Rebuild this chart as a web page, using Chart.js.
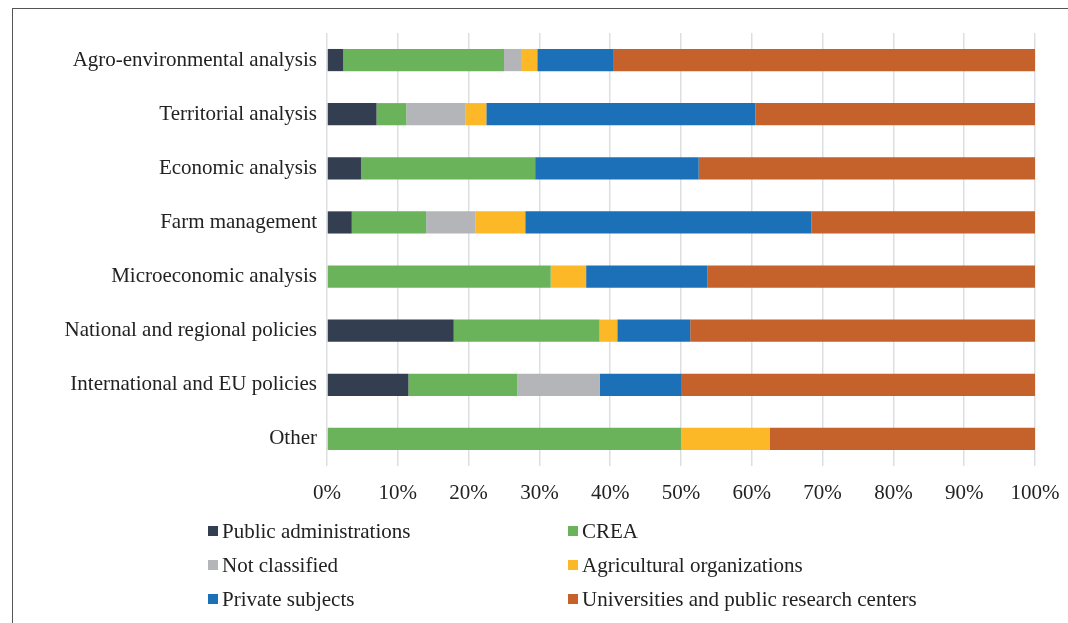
<!DOCTYPE html>
<html>
<head>
<meta charset="utf-8">
<script src="https://cdn.jsdelivr.net/npm/chart.js@4.4.1/dist/chart.umd.min.js"></script>
<style>
  html, body { margin: 0; padding: 0; background: #fff; }
  #wrap { position: relative; width: 1068px; height: 623px; overflow: hidden; }
  #frame { position: absolute; left: 12px; top: 8px; width: 1100px; height: 700px;
           border-top: 1.5px solid #555; border-left: 1.5px solid #555; }
  #chartBox { position: absolute; left: 0; top: 0; width: 1068px; height: 623px; }
  #legend { position: absolute; left: 0; top: 0; width: 1068px; height: 623px; pointer-events: none;
            font-family: "Liberation Serif", "Times New Roman", serif; font-size: 21px; color: #222; }
  .item { position: absolute; white-space: nowrap; line-height: 22px; }
  .sw { position: absolute; width: 10px; height: 10px; top: 6px; }
</style>
</head>
<body>
<div id="wrap">
  <div id="frame"></div>
  <div id="chartBox"><canvas id="c" width="1068" height="623"></canvas></div>
  <div id="legend"></div>
</div>
<script>
const categories = [
  "Agro-environmental analysis",
  "Territorial analysis",
  "Economic analysis",
  "Farm management",
  "Microeconomic analysis",
  "National and regional policies",
  "International and EU policies",
  "Other"
];
const seriesNames = [
  "Public administrations",
  "CREA",
  "Not classified",
  "Agricultural organizations",
  "Private subjects",
  "Universities and public research centers"
];
const publicAdministrations = [2.3, 7.0, 4.8, 3.5, 0, 17.9, 11.5, 0];
const crea                  = [22.7, 4.2, 24.6, 10.5, 31.6, 20.6, 15.4, 50.0];
const notClassified         = [2.4, 8.4, 0, 7.0, 0, 0, 11.6, 0];
const agriculturalOrgs      = [2.3, 2.9, 0, 7.0, 5.0, 2.5, 0, 12.5];
const privateSubjects       = [10.7, 38.0, 23.1, 40.4, 17.1, 10.3, 11.5, 0];
const universities          = [59.6, 39.5, 47.5, 31.6, 46.3, 48.7, 50.0, 37.5];
const xTickValues = [0, 10, 20, 30, 40, 50, 60, 70, 80, 90, 100];

const colors = ["#333f50", "#6ab35a", "#b4b5b8", "#fdb827", "#1c70b8", "#c5612a"];
const values = [publicAdministrations, crea, notClassified, agriculturalOrgs, privateSubjects, universities];

const datasets = seriesNames.map((name, i) => ({
  label: name,
  data: values[i],
  backgroundColor: colors[i],
  borderWidth: 0,
  barPercentage: 0.41,
  categoryPercentage: 1.0
}));

const serif = "'Liberation Serif', 'Times New Roman', serif";

new Chart(document.getElementById("c"), {
  type: "bar",
  data: { labels: categories, datasets },
  options: {
    indexAxis: "y",
    responsive: false,
    animation: false,
    layout: { padding: { left: 0, top: 33, right: 33, bottom: 117 } },
    plugins: { legend: { display: false }, tooltip: { enabled: false } },
    scales: {
      x: {
        stacked: true,
        min: 0, max: 100,
        afterBuildTicks: (s) => { s.ticks = xTickValues.map(v => ({ value: v })); },
        afterFit: (s) => { s.height = 40; s.paddingLeft = 0; s.paddingRight = 0; },
        grid: { color: "#dcdfe1", lineWidth: 1.5, drawTicks: false },
        border: { display: false },
        ticks: {
          padding: 15,
          color: "#222",
          font: { family: serif, size: 21 },
          callback: (v) => v + "%"
        }
      },
      y: {
        stacked: true,
        afterFit: (s) => { s.width = 327; },
        grid: { display: false, drawTicks: false },
        border: { display: false },
        ticks: {
          padding: 10,
          color: "#222",
          font: { family: serif, size: 21 }
        }
      }
    }
  }
});

// HTML legend built from the dataset names/colours
const legendPos = [
  [222, 520], [582, 520],
  [222, 554], [582, 554],
  [222, 588], [582, 588]
];
const lg = document.getElementById("legend");
seriesNames.forEach((name, i) => {
  const d = document.createElement("div");
  d.className = "item";
  d.style.left = legendPos[i][0] + "px";
  d.style.top = legendPos[i][1] + "px";
  d.textContent = name;
  const sw = document.createElement("span");
  sw.className = "sw";
  sw.style.left = "-14px";
  sw.style.background = colors[i];
  d.appendChild(sw);
  lg.appendChild(d);
});
</script>
</body>
</html>
